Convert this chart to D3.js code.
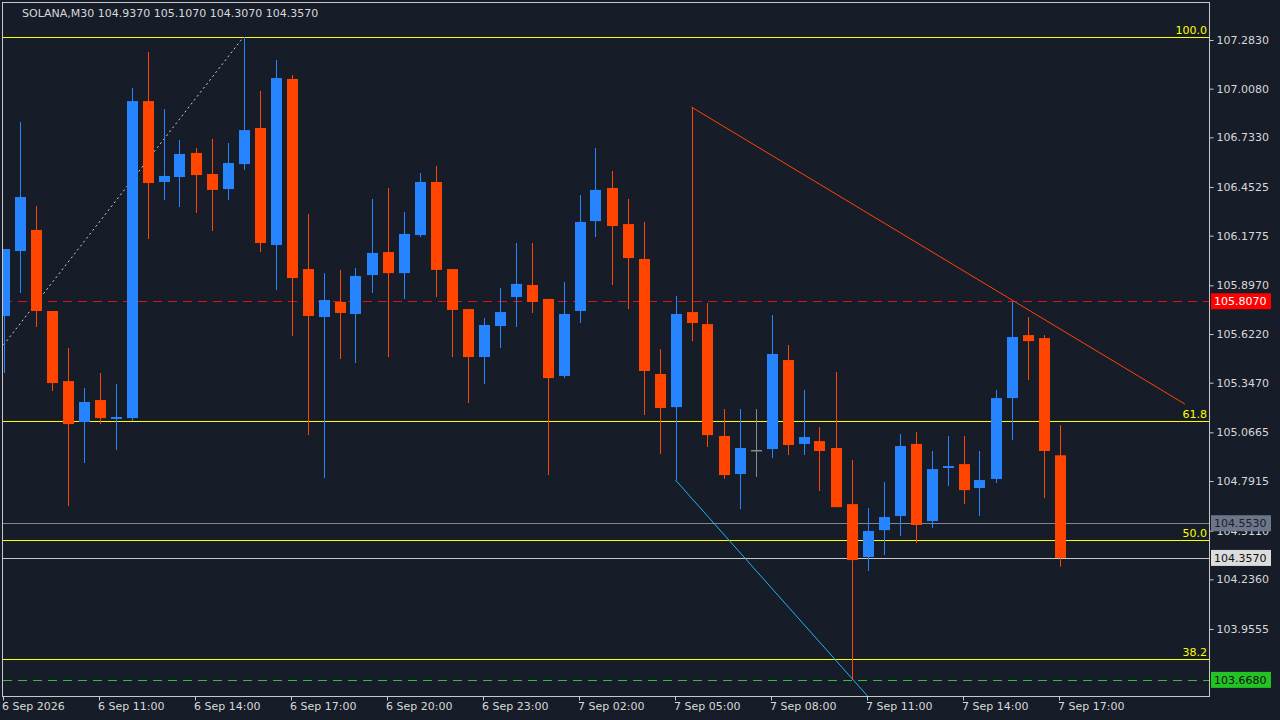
<!DOCTYPE html>
<html>
<head>
<meta charset="utf-8">
<script src="https://cdn.jsdelivr.net/npm/d3@7"></script>
<style>
  html, body { margin: 0; padding: 0; background: #161c28; overflow: hidden; }
  text { font-family: "DejaVu Sans", sans-serif; font-size: 11px; }
</style>
</head>
<body>
<div id="chart"></div>
<script>
// OHLC per 30 min bar, starting 6 Sep 08:00
var opens  = [105.724,106.091,106.210,105.752,105.356,105.125,105.249,105.142,105.147,106.938,
              106.481,106.509,106.645,106.526,106.441,106.582,106.786,106.125,107.063,105.989,
              105.718,105.803,105.735,105.955,106.085,105.966,106.181,106.481,105.989,105.763,
              105.492,105.667,105.831,105.899,105.820,105.385,105.752,106.260,106.447,106.243,
              106.046,105.396,105.209,105.746,105.678,105.046,104.831,104.967,104.972,105.475,
              105.001,105.017,104.978,104.661,104.362,104.514,104.594,105.001,104.565,104.865,
              104.887,104.752,104.803,105.260,105.616,105.599,104.937];
var highs  = [106.102,106.820,106.345,105.752,105.543,105.317,105.402,105.339,107.012,107.215,
              106.893,106.718,106.673,106.724,106.701,107.300,106.995,107.170,107.085,106.300,
              105.966,105.984,105.995,106.385,106.447,106.311,106.532,106.571,105.989,105.763,
              105.712,105.882,106.136,106.136,105.820,105.916,106.407,106.673,106.543,106.385,
              106.255,105.537,105.837,106.904,105.797,105.198,105.198,105.198,105.729,105.560,
              105.306,105.096,105.407,104.910,104.639,104.786,105.057,105.068,104.961,105.046,
              105.046,104.961,105.306,105.807,105.718,105.616,105.107];
var lows   = [105.402,105.854,105.662,105.300,104.650,104.893,105.113,104.967,105.130,106.159,
              106.379,106.339,106.306,106.204,106.379,106.549,106.085,105.870,105.611,105.051,
              104.808,105.481,105.458,105.854,105.492,105.820,106.170,105.831,105.492,105.232,
              105.339,105.543,105.662,105.741,104.825,105.373,105.684,106.170,105.899,105.763,
              105.164,104.944,104.797,105.582,104.984,104.803,104.633,104.814,104.921,104.938,
              104.938,104.735,104.644,103.668,104.283,104.373,104.481,104.441,104.526,104.763,
              104.661,104.594,104.780,105.023,105.362,104.695,104.307];
var closes = [106.102,106.396,105.752,105.345,105.113,105.238,105.147,105.153,106.938,106.475,
              106.515,106.639,106.520,106.436,106.588,106.774,106.136,107.068,105.938,105.724,
              105.814,105.741,105.950,106.080,105.966,106.187,106.481,105.984,105.758,105.492,
              105.673,105.746,105.905,105.803,105.373,105.735,106.255,106.436,106.232,106.051,
              105.413,105.204,105.735,105.684,105.051,104.825,104.978,104.967,105.509,104.995,
              105.040,104.961,104.644,104.345,104.509,104.588,104.989,104.543,104.859,104.876,
              104.740,104.797,105.260,105.605,105.582,104.961,104.357];

var yTicks = [107.2830,107.0080,106.7330,106.4525,106.1775,105.8970,105.6220,105.3470,
              105.0665,104.7915,104.5110,104.2360,103.9555];
var timeLabels = ['6 Sep 2026','6 Sep 11:00','6 Sep 14:00','6 Sep 17:00','6 Sep 20:00','6 Sep 23:00',
                  '7 Sep 02:00','7 Sep 05:00','7 Sep 08:00','7 Sep 11:00','7 Sep 14:00','7 Sep 17:00'];

// Fibonacci retracement, 0 and 100 prices
var fibLow = 101.616, fibHigh = 107.300;
var fibLevels = [100.0, 61.8, 50.0, 38.2];

// trend lines: [barIndex1, price1, barIndex2, price2, colour, dash]
var trendLines = [
  [0, 105.560, 15, 107.300, '#d0d0d0', '2,3'],
  [43, 106.904, 73.84, 105.226, '#ff4500', null],
  [42, 104.797, 54, 103.577, '#1fb4f0', null]
];

// price markers: [price, line colour, dashed, label bg, label text colour]
var markers = [
  [105.807, '#e01010', true, '#ff0000', '#ffffff'],
  [104.553, '#7c8896', false, '#6b7788', '#1a2030'],
  [104.357, '#c8c8c8', false, '#dcdcdc', '#111111'],
  [103.668, '#30c030', true, '#22c322', '#111111']
];

var svgWidth = 1280, svgHeight = 720;
var plot = { left: 2.5, top: 2.5, right: 1209.5, bottom: 696.5 };

var svg = d3.select('#chart').append('svg').attr('width', svgWidth).attr('height', svgHeight);
svg.append('rect').attr('width', svgWidth).attr('height', svgHeight).attr('fill', '#161c28');

var x = d3.scaleLinear().domain([0, 66]).range([3.5, 1059.5]);
var y = d3.scaleLinear().domain([103.9555, 107.283]).range([629, 40]);

svg.append('clipPath').attr('id', 'clip').append('rect')
  .attr('x', plot.left).attr('y', plot.top)
  .attr('width', plot.right - plot.left).attr('height', plot.bottom - plot.top);

var g = svg.append('g').attr('clip-path', 'url(#clip)');

// horizontal level drawn as 1px filled rects (solid or dashed)
function hLevel(price, colour, dashed) {
  var py = Math.round(y(price));
  if (!dashed) {
    g.append('rect').attr('x', 3).attr('y', py).attr('width', 1206).attr('height', 1).attr('fill', colour);
  } else {
    g.selectAll(null).data(d3.range(3, 1209, 15)).enter().append('rect')
      .attr('x', function(d) { return d; }).attr('y', py).attr('width', 9).attr('height', 1)
      .attr('fill', colour);
  }
}

fibLevels.forEach(function(lv) {
  var p = fibLow + (fibHigh - fibLow) * lv / 100;
  hLevel(p, '#ffff00', false);
  svg.append('text').attr('x', 1207).attr('y', Math.round(y(p)) - 3).attr('text-anchor', 'end')
    .attr('fill', '#ffff00').text(lv.toFixed(1));
});

markers.forEach(function(m) { hLevel(m[0], m[1], m[2]); });

// trend lines
trendLines.forEach(function(t) {
  g.append('line').attr('x1', x(t[0])).attr('y1', y(t[1])).attr('x2', x(t[2])).attr('y2', y(t[3]))
    .attr('stroke', t[4]).attr('stroke-width', 1).attr('stroke-dasharray', t[5]);
});

// candles
var idx = d3.range(opens.length);
function col(i) {
  if (closes[i] > opens[i]) return '#2684ff';
  if (closes[i] < opens[i]) return '#ff4500';
  return '#8a8a8a';
}
g.selectAll('.wick').data(idx).enter().append('rect').attr('class', 'wick')
  .attr('x', function(i) { return Math.round(x(i)); })
  .attr('width', 1)
  .attr('y', function(i) { return y(highs[i]); })
  .attr('height', function(i) { return y(lows[i]) - y(highs[i]); })
  .attr('fill', col);
g.selectAll('.body').data(idx).enter().append('rect').attr('class', 'body')
  .attr('x', function(i) { return Math.round(x(i)) - 5; })
  .attr('width', 11)
  .attr('y', function(i) { return y(Math.max(opens[i], closes[i])); })
  .attr('height', function(i) { return Math.max(1.5, Math.abs(y(opens[i]) - y(closes[i]))); })
  .attr('fill', col);

// frame
svg.append('rect').attr('x', plot.left).attr('y', plot.top)
  .attr('width', plot.right - plot.left).attr('height', plot.bottom - plot.top)
  .attr('fill', 'none').attr('stroke', '#c8c8c8');

// right price axis
var yAxis = svg.append('g').attr('transform', 'translate(' + plot.right + ',0)')
  .call(d3.axisRight(y).tickValues(yTicks).tickSize(4).tickPadding(3)
    .tickFormat(function(d) { return d.toFixed(4); }));
yAxis.select('.domain').remove();
yAxis.selectAll('line').attr('stroke', '#c8c8c8');
yAxis.selectAll('text').attr('fill', '#d8d8d8').style('font-size', '11px').style('font-family', '"DejaVu Sans", sans-serif');

// price labels
markers.forEach(function(m) {
  var py = y(m[0]);
  svg.append('rect').attr('x', 1211).attr('y', py - 8).attr('width', 60).attr('height', 16).attr('fill', m[3]);
  svg.append('text').attr('x', 1214).attr('y', py + 4).attr('fill', m[4]).text(m[0].toFixed(4));
});

// time axis
var xAxis = svg.append('g').attr('transform', 'translate(0,' + plot.bottom + ')')
  .call(d3.axisBottom(x).tickValues(d3.range(0, 67, 6)).tickSize(4).tickPadding(2)
    .tickFormat(function(d, i) { return timeLabels[i]; }));
xAxis.select('.domain').remove();
xAxis.selectAll('.tick line').attr('stroke', '#c8c8c8').attr('transform', 'translate(-0.5,0)');
xAxis.selectAll('text').attr('fill', '#d8d8d8').attr('text-anchor', 'start').attr('dx', 0)
  .attr('x', -2).style('font-size', '11px').style('font-family', '"DejaVu Sans", sans-serif');

// title
svg.append('text').attr('x', 22).attr('y', 17).attr('fill', '#d8d8d8')
  .text('SOLANA,M30  104.9370 105.1070 104.3070 104.3570');
</script>
</body>
</html>
